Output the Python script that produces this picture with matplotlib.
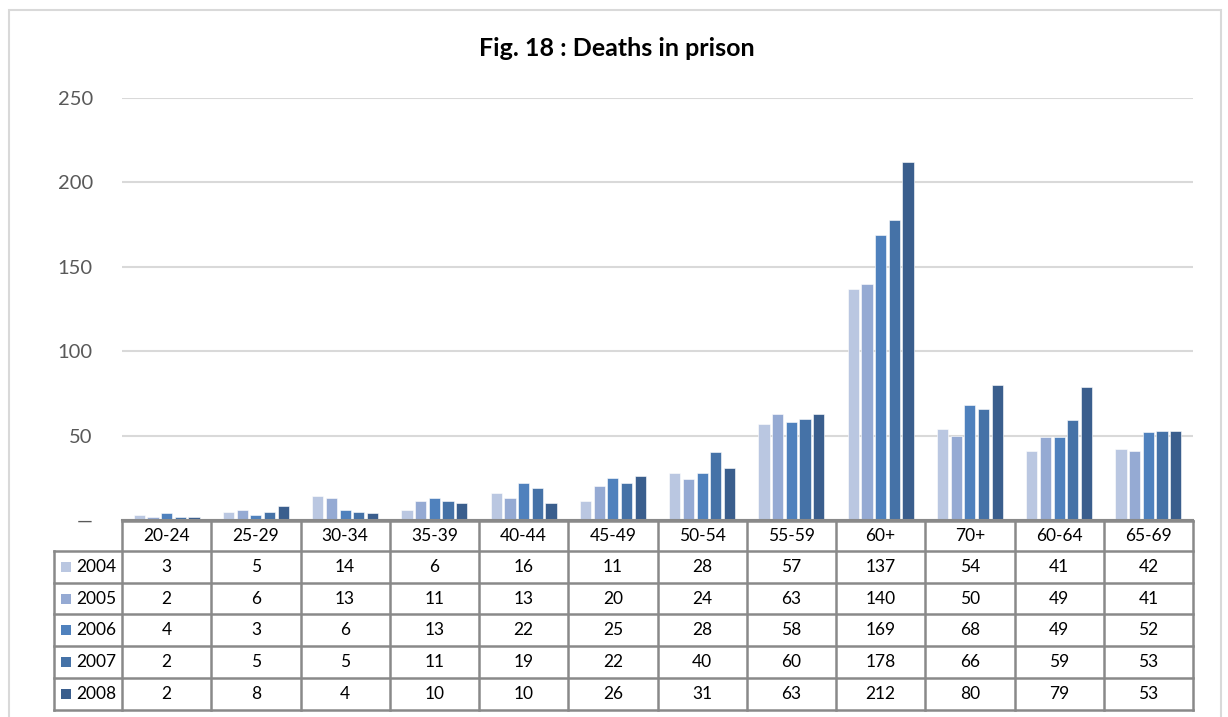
import matplotlib
matplotlib.use("Agg")
import matplotlib.pyplot as plt
from matplotlib.patches import Rectangle
from matplotlib.lines import Line2D
import numpy as np

categories = ["20-24", "25-29", "30-34", "35-39", "40-44", "45-49", "50-54",
              "55-59", "60+", "70+", "60-64", "65-69"]
years = ["2004", "2005", "2006", "2007", "2008"]
v2004 = [3, 5, 14, 6, 16, 11, 28, 57, 137, 54, 41, 42]
v2005 = [2, 6, 13, 11, 13, 20, 24, 63, 140, 50, 49, 41]
v2006 = [4, 3, 6, 13, 22, 25, 28, 58, 169, 68, 49, 52]
v2007 = [2, 5, 5, 11, 19, 22, 40, 60, 178, 66, 59, 53]
v2008 = [2, 8, 4, 10, 10, 26, 31, 63, 212, 80, 79, 53]
series = [v2004, v2005, v2006, v2007, v2008]
colors = ["#BAC7E1", "#95AAD3", "#4F81BD", "#4572A7", "#3A5E8D"]
yticks = [0, 50, 100, 150, 200, 250]
ytick_labels = ["—", "50", "100", "150", "200", "250"]
title = "Fig. 18 : Deaths in prison"

plt.rcParams["font.family"] = ["Lato", "DejaVu Sans"]

W, H = 1228, 717
fig = plt.figure(figsize=(W / 100, H / 100), dpi=100)

def fx(px):
    return px / W

def fy(py):
    return 1 - py / H

# outer chart border
fig.patches.append(Rectangle((fx(9), fy(740)), fx(1221) - fx(9), fy(10) - fy(740),
                             transform=fig.transFigure, fill=False,
                             edgecolor="#D9D9D9", linewidth=1.5))

left, right, top, bottom = 122, 1193, 98, 520
ax = fig.add_axes([fx(left), fy(bottom), fx(right) - fx(left), fy(top) - fy(bottom)])
n = len(categories)
x = np.arange(n)
step = 0.153
bw = 0.125
for i, (vals, c) in enumerate(zip(series, colors)):
    ax.bar(x + (i - 2) * step, vals, width=bw, color=c, edgecolor="white",
           linewidth=0.4, zorder=3)

ax.set_xlim(-0.5, n - 0.5)
ax.set_ylim(0, 250)
ax.set_yticks(yticks)
ax.set_yticklabels(ytick_labels, fontsize=14.5, color="#595959")
ax.tick_params(axis="y", length=0, pad=21)
ax.set_xticks([])
ax.grid(axis="y", color="#D9D9D9", linewidth=1.5, zorder=0)
for s in ["top", "right", "left"]:
    ax.spines[s].set_visible(False)
ax.spines["bottom"].set_color("#898989")
ax.spines["bottom"].set_linewidth(1.5)
ax.spines["bottom"].set_zorder(4)

fig.text(fx(617), fy(48), title, ha="center", va="center",
         fontsize=18, fontweight="bold", color="#000000")

# data table
fig.canvas.draw()
def cat_px(v):
    return ax.transData.transform((v, 0))[0]

col_edges = [cat_px(k - 0.5) for k in range(n + 1)]
row_edges = [521, 551, 583, 614, 646, 678, 710]
leg_left = 54
lc = "#898989"
lw = 1.8

def hline(y, x0, x1):
    fig.add_artist(Line2D([fx(x0), fx(x1)], [fy(y), fy(y)], transform=fig.transFigure,
                          color=lc, linewidth=lw))

def vline(xp, y0, y1):
    fig.add_artist(Line2D([fx(xp), fx(xp)], [fy(y0), fy(y1)], transform=fig.transFigure,
                          color=lc, linewidth=lw))

hline(row_edges[0], col_edges[0], col_edges[-1])
for r in row_edges[1:]:
    hline(r, leg_left, col_edges[-1])
for ce in col_edges:
    vline(ce, row_edges[0], row_edges[-1])
vline(leg_left, row_edges[1], row_edges[-1])

fs = 12.5
for k, cat in enumerate(categories):
    cx = (col_edges[k] + col_edges[k + 1]) / 2
    fig.text(fx(cx), fy((row_edges[0] + row_edges[1]) / 2), cat, ha="center",
             va="center", fontsize=fs, color="#000000")
    for j, vals in enumerate(series):
        cy = (row_edges[j + 1] + row_edges[j + 2]) / 2
        fig.text(fx(cx), fy(cy), str(vals[k]), ha="center", va="center",
                 fontsize=fs, color="#000000")

for j, (yr, c) in enumerate(zip(years, colors)):
    cy = (row_edges[j + 1] + row_edges[j + 2]) / 2
    sq = 10
    fig.patches.append(Rectangle((fx(61), fy(cy + sq / 2)), fx(sq), fy(0) - fy(sq),
                                 transform=fig.transFigure, facecolor=c,
                                 edgecolor="none"))
    fig.text(fx(76), fy(cy), yr, ha="left", va="center", fontsize=fs, color="#000000")

fig.savefig("out.png", dpi=100)
